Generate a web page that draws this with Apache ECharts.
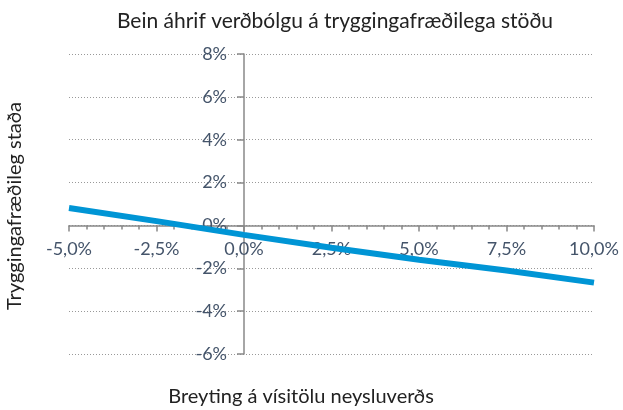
<!DOCTYPE html>
<html>
<head>
<meta charset="utf-8">
<script src="https://cdn.jsdelivr.net/npm/echarts@6/dist/echarts.min.js"></script>
<style>
    html, body { margin: 0; padding: 0; background: #fff; }
    #chart { width: 623px; height: 410px; }
</style>
</head>
<body>
<div id="chart"></div>
<script>
// Breyting á vísitölu neysluverðs (%) og áhrif á stöðu (%)
const cpiChange = [-5, -2.5, 0, 2.5, 5, 7.5, 10]
const position = [0.81, 0.2, -0.44, -1.04, -1.6, -2.1, -2.67]

const titleText = 'Bein áhrif verðbólgu á tryggingafræðilega stöðu'
const xName = 'Breyting á vísitölu neysluverðs'
const yName = 'Tryggingafræðileg staða'

const font = 'Lato, "Noto Sans", sans-serif'
const labelColor = '#44546a'

// grid: -5..10 -> 69..594, -6..8 -> 354..54, so 0 lies at x 244, y 225.6
const gridLeft = 69, gridRight = 29, gridTop = 54, gridBottom = 56

const chart = echarts.init(document.getElementById('chart'))

const options = {
    animation: false,
    title: {
        text: titleText,
        left: 330,
        top: 6,
        textAlign: 'center',
        textStyle: {
            fontFamily: font,
            fontSize: 21,
            fontWeight: 'normal',
            color: '#222'
        }
    },
    grid: {
        left: gridLeft,
        right: gridRight,
        top: gridTop,
        bottom: gridBottom
    },
    xAxis: {
        type: 'value',
        min: -5,
        max: 10,
        interval: 2.5,
        offset: -128.6,
        axisLine: {
            onZero: false,
            lineStyle: { color: '#888', width: 1.5 }
        },
        axisTick: {
            length: 6,
            lineStyle: { color: '#888', width: 1.5 }
        },
        minorTick: {
            show: true,
            splitNumber: 5,
            length: 4,
            lineStyle: { color: '#888', width: 1.5 }
        },
        splitLine: { show: false },
        axisLabel: {
            margin: 15,
            color: labelColor,
            fontFamily: font,
            fontSize: 18,
            formatter: v => v.toFixed(1).replace('.', ',') + '%'
        }
    },
    yAxis: {
        type: 'value',
        min: -6,
        max: 8,
        interval: 2,
        offset: -175,
        axisLine: {
            show: true,
            onZero: false,
            lineStyle: { color: '#888', width: 1.5 }
        },
        axisTick: {
            show: true,
            length: 7,
            lineStyle: { color: '#888', width: 1.5 }
        },
        splitLine: {
            lineStyle: { color: '#999', type: [1, 2], width: 1 }
        },
        axisLabel: {
            margin: 17,
            color: labelColor,
            fontFamily: font,
            fontSize: 18,
            formatter: v => v + '%'
        }
    },
    graphic: [
        {
            type: 'text',
            x: 15,
            y: 206,
            rotation: Math.PI / 2,
            style: {
                text: yName,
                fontFamily: font,
                fontSize: 20,
                fill: '#222',
                align: 'center',
                verticalAlign: 'middle'
            }
        },
        {
            type: 'text',
            x: 301,
            y: 397,
            style: {
                text: xName,
                fontFamily: font,
                fontSize: 20,
                fill: '#222',
                align: 'center',
                verticalAlign: 'middle'
            }
        }
    ],
    series: [{
        type: 'line',
        data: cpiChange.map((x, i) => [x, position[i]]),
        symbol: 'none',
        lineStyle: { color: '#0095d5', width: 6 }
    }]
}

chart.setOption(options)
</script>
</body>
</html>
